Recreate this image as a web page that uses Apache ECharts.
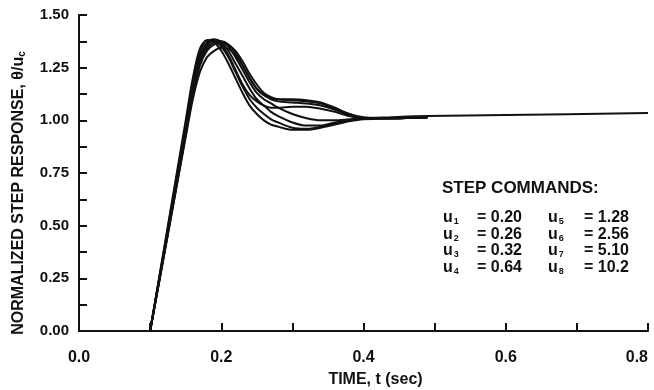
<!DOCTYPE html>
<html>
<head>
<meta charset="utf-8">
<script src="https://cdn.jsdelivr.net/npm/echarts@6/dist/echarts.min.js"></script>
<style>
  html, body { margin: 0; padding: 0; background: #fff; }
  #main { width: 654px; height: 390px; }
</style>
</head>
<body>
<div id="main"></div>
<script>
// time samples (sec) shared by all step responses
var times = [0.1, 0.125, 0.15, 0.16, 0.17, 0.18, 0.19, 0.2, 0.21, 0.22, 0.23, 0.24, 0.25, 0.26, 0.27, 0.28, 0.3, 0.32, 0.34, 0.36, 0.38, 0.4, 0.44, 0.49];

// normalized step response for each command
var resp1 = [0, 0.5, 1.0, 1.2, 1.34, 1.38, 1.37, 1.33, 1.27, 1.2, 1.13, 1.07, 1.03, 1.0, 0.98, 0.97, 0.955, 0.955, 0.965, 0.98, 0.995, 1.005, 1.01, 1.015];
var resp2 = [0, 0.49, 0.98, 1.18, 1.32, 1.38, 1.38, 1.35, 1.3, 1.23, 1.16, 1.1, 1.06, 1.03, 1.005, 0.99, 0.965, 0.96, 0.97, 0.985, 1.0, 1.01, 1.01, 1.015];
var resp3 = [0, 0.48, 0.97, 1.16, 1.3, 1.37, 1.385, 1.37, 1.33, 1.27, 1.21, 1.15, 1.1, 1.07, 1.04, 1.02, 0.99, 0.975, 0.975, 0.99, 1.0, 1.01, 1.01, 1.015];
var resp4 = [0, 0.47, 0.95, 1.14, 1.28, 1.35, 1.38, 1.375, 1.35, 1.3, 1.24, 1.18, 1.13, 1.1, 1.08, 1.06, 1.03, 1.01, 1.0, 1.0, 1.005, 1.01, 1.01, 1.015];
var resp5 = [0, 0.47, 0.94, 1.13, 1.27, 1.34, 1.37, 1.375, 1.36, 1.32, 1.26, 1.2, 1.15, 1.12, 1.1, 1.09, 1.085, 1.08, 1.07, 1.05, 1.025, 1.01, 1.01, 1.015];
var resp6 = [0, 0.46, 0.93, 1.12, 1.26, 1.33, 1.36, 1.37, 1.36, 1.33, 1.28, 1.22, 1.17, 1.13, 1.11, 1.1, 1.095, 1.09, 1.08, 1.055, 1.03, 1.01, 1.01, 1.015];
var resp7 = [0, 0.46, 0.92, 1.1, 1.23, 1.3, 1.33, 1.345, 1.34, 1.31, 1.26, 1.2, 1.15, 1.12, 1.105, 1.1, 1.1, 1.095, 1.085, 1.06, 1.03, 1.015, 1.01, 1.015];
var resp8 = [0, 0.48, 0.96, 1.15, 1.29, 1.36, 1.38, 1.36, 1.31, 1.24, 1.17, 1.12, 1.09, 1.07, 1.06, 1.06, 1.065, 1.065, 1.055, 1.04, 1.02, 1.01, 1.015, 1.02];
// u8 trace keeps going to the end of the axis
var tailTimes = [0.6, 0.8];
var tail8 = [1.025, 1.035];

// step command table
var cmdNames = ['1', '2', '3', '4', '5', '6', '7', '8'];
var cmdValues = ['0.20', '0.26', '0.32', '0.64', '1.28', '2.56', '5.10', '10.2'];

function pairs(xs, ys) {
    var out = [];
    for (var i = 0; i < xs.length; i++) out.push([xs[i], ys[i]]);
    return out;
}

var allResp = [resp1, resp2, resp3, resp4, resp5, resp6, resp7, resp8];
var series = allResp.map(function (r, i) {
    var d = pairs(times, r);
    if (i === 7) d = d.concat(pairs(tailTimes, tail8));
    return {
        name: 'u' + cmdNames[i],
        type: 'line',
        data: d,
        smooth: 0.3,
        symbol: 'none',
        lineStyle: { color: '#111', width: 2 }
    };
});

var font = 'Liberation Sans, Arial, Helvetica, sans-serif';

// legend block drawn as text
var graphics = [{
    type: 'text', left: 442, top: 180,
    style: { text: 'STEP COMMANDS:', font: 'bold 17px ' + font, fill: '#111' }
}];
var rowTop = [210, 227, 243, 260];
for (var k = 0; k < 8; k++) {
    var col = k < 4 ? 0 : 1;
    var row = k % 4;
    var x0 = col === 0 ? 443 : 548;
    graphics.push({
        type: 'text', left: x0, top: rowTop[row],
        style: {
            text: 'u{s|' + cmdNames[k] + '}',
            rich: { s: { fontSize: 9, fontWeight: 'bold', fontFamily: font, verticalAlign: 'bottom', padding: [0, 0, 0, 1] } },
            font: 'bold 16px ' + font, fill: '#111'
        }
    });
    graphics.push({
        type: 'text', left: col === 0 ? 477 : 584, top: rowTop[row],
        style: { text: '= ' + cmdValues[k], font: 'bold 16px ' + font, fill: '#111' }
    });
}

var myChart = echarts.init(document.getElementById('main'));
myChart.setOption({
    backgroundColor: '#ffffff',
    animation: false,
    grid: { left: 79, right: 6, top: 15, bottom: 59, containLabel: false, outerBoundsMode: 'none' },
    xAxis: {
        type: 'value',
        min: 0, max: 0.8, interval: 0.1,
        name: 'TIME, t (sec)',
        nameLocation: 'middle',
        nameGap: 41,
        nameTextStyle: { fontFamily: font, fontWeight: 'bold', fontSize: 16, color: '#111', padding: [0, 0, 0, 24] },
        axisLine: { lineStyle: { color: '#111', width: 2 } },
        axisTick: { inside: true, length: 8, lineStyle: { color: '#111', width: 2 } },
        axisLabel: {
            margin: 19,
            alignMaxLabel: 'right',
            fontFamily: font, fontWeight: 'bold', fontSize: 16, color: '#111',
            formatter: function (v) {
                var n = Math.round(v * 10);
                return n % 2 === 0 ? (n / 10).toFixed(1) : '';
            }
        },
        splitLine: { show: false }
    },
    yAxis: {
        type: 'value',
        min: 0, max: 1.5, interval: 0.125,
        name: 'NORMALIZED STEP RESPONSE, θ/u{s|c}',
        nameLocation: 'middle',
        nameGap: 52,
        nameTextStyle: {
            fontFamily: font, fontWeight: 'bold', fontSize: 16, color: '#111',
            padding: [0, 40, 0, 0],
            rich: { s: { fontSize: 10, fontWeight: 'bold', fontFamily: font, verticalAlign: 'bottom' } }
        },
        axisLine: { show: true, lineStyle: { color: '#111', width: 2 } },
        axisTick: { show: true, inside: true, length: 8, lineStyle: { color: '#111', width: 2 } },
        axisLabel: {
            margin: 10,
            fontFamily: font, fontWeight: 'bold', fontSize: 15, color: '#111',
            formatter: function (v) {
                var q = v * 4;
                return Math.abs(q - Math.round(q)) < 1e-6 ? v.toFixed(2) : '';
            }
        },
        splitLine: { show: false }
    },
    graphic: graphics,
    series: series
});
</script>
</body>
</html>
